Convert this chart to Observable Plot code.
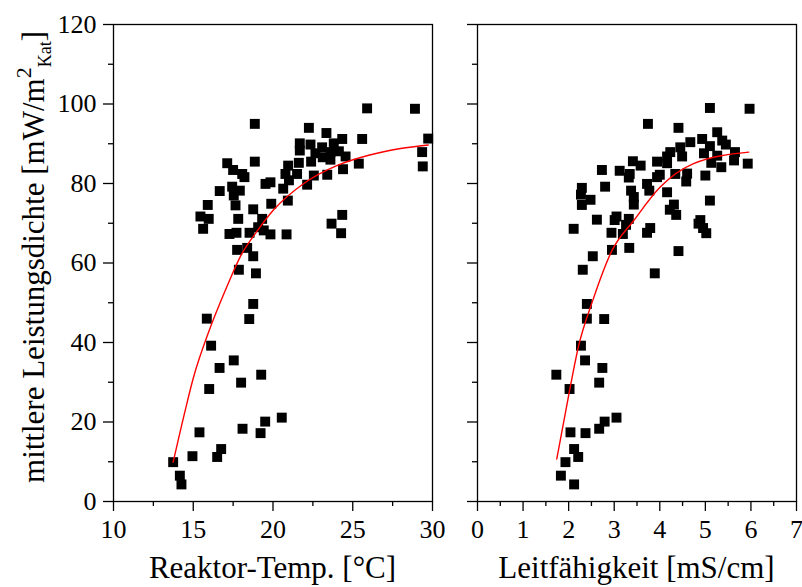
<!DOCTYPE html>
<html>
<head>
<meta charset="utf-8">
<script src="https://cdn.jsdelivr.net/npm/d3@7"></script>
<script src="https://cdn.jsdelivr.net/npm/@observablehq/plot@0.6"></script>
<style>
  html, body { margin: 0; padding: 0; background: #fff; }
  #wrap { display: flex; width: 802px; height: 587px; overflow: hidden; }
  #wrap svg { overflow: visible; background: transparent !important; }
  #wrap svg, #wrap svg text, #wrap svg tspan { font-family: "Liberation Serif", "Times New Roman", serif !important; }
</style>
</head>
<body>
<div id="wrap"></div>
<script>
// Left panel: reactor temperature [°C] vs mean power density
const tempX = [25.9,28.9,18.86,22.25,23.35,24.34,25.59,29.73,21.68,22.35,23.08,23.81,21.68,22.66,23.6,24.13,24.55,29.35,23.12,23.6,18.86,22.39,17.13,21.62,25.38,29.39,20.95,17.5,24.39,20.78,21.51,18.07,18.21,22.56,23.4,21.0,22.14,19.53,19.84,17.44,17.92,16.66,20.64,17.54,20.93,15.91,17.65,19.89,18.76,15.45,15.97,17.82,19.32,24.34,23.67,15.62,19.07,19.42,17.27,17.71,18.53,19.84,20.85,24.27,17.75,18.38,18.76,17.86,18.93,18.76,15.85,18.51,16.12,17.54,16.65,19.26,18.0,16.0,20.55,19.51,15.39,18.09,19.22,16.75,14.95,16.5,13.74,14.16,14.26];
const tempY = [98.9,98.8,95.0,94.0,92.7,91.2,91.2,91.3,90.1,89.8,89.1,90.1,88.3,87.6,87.9,88.1,86.8,87.9,86.6,86.0,85.5,85.5,85.1,85.2,85.0,84.3,84.5,83.4,83.6,82.4,82.4,82.4,81.6,82.0,82.2,80.8,79.7,79.9,80.3,79.2,78.2,78.1,78.7,77.0,75.7,74.6,74.5,74.9,73.5,71.7,71.1,71.1,71.1,72.1,69.9,68.6,69.0,68.2,67.3,67.6,67.6,67.2,67.2,67.5,63.3,63.8,61.7,58.3,57.4,49.7,46.0,45.9,39.2,35.5,33.6,31.9,29.9,28.3,21.1,20.1,17.4,18.3,17.2,13.2,11.4,11.2,9.9,6.5,4.3];
// Fitted curve
const tempFitX = [13.74,14.5,15,16,17,18,19,20,22,24,26,28,29.73];
const tempFitY = [9.9,23,31,43,53,62,68,73.2,80.2,84.5,87.1,88.8,89.7];

// Right panel: conductivity [mS/cm] vs mean power density
const condX = [5.10,5.97,3.74,4.41,5.26,4.93,4.67,5.37,4.45,4.23,5.45,5.10,5.65,4.97,4.49,4.16,5.26,5.63,3.41,3.94,4.16,5.13,5.93,3.58,5.35,2.73,3.12,3.34,4.0,4.34,4.60,5.00,3.32,3.94,4.58,3.72,2.80,2.29,3.77,3.37,2.27,4.16,3.43,2.48,5.10,2.29,3.43,4.31,4.22,4.36,3.05,2.62,3.01,3.32,4.89,3.26,4.85,2.11,3.79,4.95,2.94,3.19,3.72,5.02,2.95,3.33,4.41,2.53,2.31,3.89,2.40,2.40,2.78,2.27,2.36,2.74,1.73,2.67,2.02,3.05,2.79,2.04,2.67,2.37,2.12,2.21,1.93,1.83,2.12];
const condY = [99.0,98.8,95.0,94.0,92.9,91.2,90.4,90.8,89.1,87.9,89.8,89.4,87.9,87.6,86.8,86.8,87.0,85.8,85.6,85.5,85.1,85.2,85.0,84.5,84.1,83.4,83.2,82.4,82.2,82.4,82.5,82.0,81.5,81.6,80.5,79.9,79.2,78.9,78.2,78.2,77.2,77.8,76.6,75.9,75.7,74.6,74.7,74.7,73.4,72.1,71.7,70.9,70.8,71.1,70.8,69.6,69.9,68.6,68.8,68.8,67.6,67.3,67.6,67.5,63.3,63.8,63.0,61.7,58.3,57.4,49.7,46.0,45.9,39.2,35.5,33.6,31.9,29.9,28.3,21.1,20.1,17.4,18.3,17.2,13.2,11.2,9.9,6.5,4.3];
const condFitX = [1.74,2.02,2.22,2.53,2.95,3.43,4.01,4.74,5.95];
const condFitY = [10.7,27.9,39.2,50.6,63.1,70.7,79.1,85.0,87.9];

// Ticks
const yMajor = [0,20,40,60,80,100,120];
const yMinor = [10,30,50,70,90,110];
const tempMajor = [10,15,20,25,30];
const tempMinor = [12.5,17.5,22.5,27.5];
const condMajor = [0,1,2,3,4,5,6,7];
const condMinor = [0.5,1.5,2.5,3.5,4.5,5.5,6.5];

const tempLabel = "Reaktor-Temp. [°C]";
const condLabel = "Leitfähigkeit [mS/cm]";

const toRows = (xs, ys) => xs.map((x, i) => ({x, y: ys[i]}));
const FONT = "Liberation Serif, Times New Roman, serif";

function panel({width, marginLeft, marginRight, xDomain, xMajor, xMinor, pts, fit, showYLabels}) {
  return Plot.plot({
    width, height: 587,
    marginLeft, marginRight, marginTop: 24, marginBottom: 86,
    style: {background: "transparent", color: "black", fontFamily: FONT, overflow: "visible"},
    x: {domain: xDomain},
    y: {domain: [0, 120]},
    marks: [
      Plot.axisY({ticks: yMajor, tickSize: 10, tickPadding: 7, fontSize: 26, fontFamily: FONT, strokeWidth: 1.3, label: null,
        tickFormat: showYLabels ? (d => String(d)) : (() => "")}),
      Plot.axisY({ticks: yMinor, tickSize: 5, strokeWidth: 1.3, label: null, tickFormat: () => ""}),
      Plot.axisX({ticks: xMajor, tickSize: 10, tickPadding: 8, fontSize: 26, fontFamily: FONT, strokeWidth: 1.3, label: null,
        tickFormat: d => String(d)}),
      Plot.axisX({ticks: xMinor, tickSize: 5, strokeWidth: 1.3, label: null, tickFormat: () => ""}),
      Plot.frame({stroke: "black", strokeWidth: 1.3}),
      Plot.dot(pts, {x: "x", y: "y", symbol: "square", r: 5.6, fill: "black", stroke: "none"}),
      Plot.line(fit, {x: "x", y: "y", stroke: "#ff0000", strokeWidth: 1.4, curve: "monotone-x"})
    ]
  });
}

const left = panel({
  width: 440, marginLeft: 113, marginRight: 8,
  xDomain: [10, 30], xMajor: tempMajor, xMinor: tempMinor,
  pts: toRows(tempX, tempY), fit: toRows(tempFitX, tempFitY), showYLabels: true
});
const right = panel({
  width: 362, marginLeft: 37, marginRight: 6,
  xDomain: [0, 7], xMajor: condMajor, xMinor: condMinor,
  pts: toRows(condX, condY), fit: toRows(condFitX, condFitY), showYLabels: false
});

// Axis titles
d3.select(left).append("text")
  .attr("x", (113 + 432) / 2).attr("y", 578)
  .attr("text-anchor", "middle").attr("font-size", 31).attr("fill", "black")
  .text(tempLabel);
d3.select(right).append("text")
  .attr("x", 37 + (362 - 37 - 6) / 2).attr("y", 578)
  .attr("text-anchor", "middle").attr("font-size", 31).attr("fill", "black")
  .text(condLabel);

const yt = d3.select(left).append("text")
  .attr("transform", "translate(44,257) rotate(-90)")
  .attr("text-anchor", "middle").attr("font-size", 31).attr("fill", "black");
yt.append("tspan").text("mittlere Leistungsdichte [mW/m");
yt.append("tspan").attr("font-size", 22).attr("dy", -13).text("2");
yt.append("tspan").attr("font-size", 18).attr("dy", 20).text("Kat");
yt.append("tspan").attr("dy", -7).text("]");

document.getElementById("wrap").append(left, right);
</script>
</body>
</html>
